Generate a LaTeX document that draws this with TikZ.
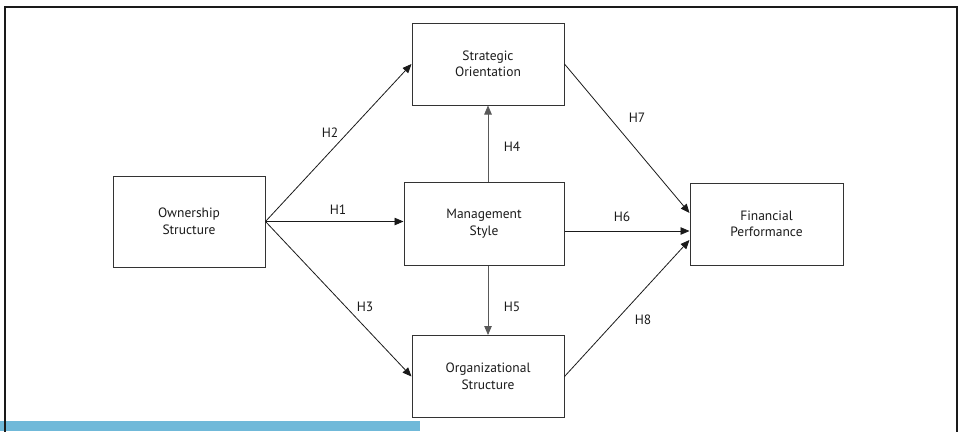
\documentclass[tikz,border=0pt]{standalone}
\usepackage{fontspec}
\setmainfont{PT Sans}
\usetikzlibrary{arrows.meta}
\definecolor{Ink}{HTML}{1A1A1A}
\definecolor{Edge}{HTML}{333333}
\definecolor{Bar}{HTML}{70B9D9}

\begin{document}
\begin{tikzpicture}[x=1pt,y=-1pt,
    box/.style={draw=Edge,line width=1pt,align=center,inner sep=0pt,
      font=\fontsize{13.5}{16.5}\selectfont,text=Ink},
    link/.style={draw=Ink,line width=0.8pt,-{Triangle[length=9pt,width=7.5pt]}},
    hyp/.style={font=\fontsize{13.5}{15}\selectfont,text=Ink}]
    \useasboundingbox (0,0) rectangle (960,431);
    \fill[Bar] (0,421) rectangle (420,431);
    \draw[line width=1.5pt,Ink] (5,440) |- (957,7) -- (957,440);

    % constructs
    \node[box,minimum width=152pt,minimum height=91pt] (own) at (189,221.5) {Ownership\\Structure};
    \node[box,minimum width=152pt,minimum height=82pt] (strat) at (488,64) {Strategic\\Orientation};
    \node[box,minimum width=160pt,minimum height=83pt] (mgmt) at (484,223.5) {Management\\Style};
    \node[box,minimum width=152pt,minimum height=82pt] (org) at (488,376.5) {Organizational\\Structure};
    \node[box,minimum width=153pt,minimum height=82pt] (fin) at (766.5,224) {Financial\\Performance};

    % hypotheses
    \draw[link] (own.east) -- (own.east -| mgmt.west);
    \draw[link] (own.east) -- (strat.west);
    \draw[link] (own.east) -- (org.west);
    \draw[link,draw=black!65] (strat.south |- mgmt.north) -- (strat.south);
    \draw[link,draw=black!65] (org.north |- mgmt.south) -- (org.north);
    \draw[link] ([yshift=-7.5pt]mgmt.east) -- ([yshift=-7pt]fin.west);
    \draw[link] (strat.east) -- ([yshift=11pt]fin.west);
    \draw[link] (org.east) -- ([yshift=-16pt]fin.west);

    \node[hyp] (h1) at (338,210) {H1};
    \node[hyp] (h2) at (330,133) {H2};
    \node[hyp] (h3) at (365,307) {H3};
    \node[hyp] (h4) at (512,147) {H4};
    \node[hyp] (h5) at (512,307) {H5};
    \node[hyp] (h6) at (622,217) {H6};
    \node[hyp] (h7) at (637,118) {H7};
    \node[hyp] (h8) at (643,320) {H8};
  \end{tikzpicture}
\end{document}
